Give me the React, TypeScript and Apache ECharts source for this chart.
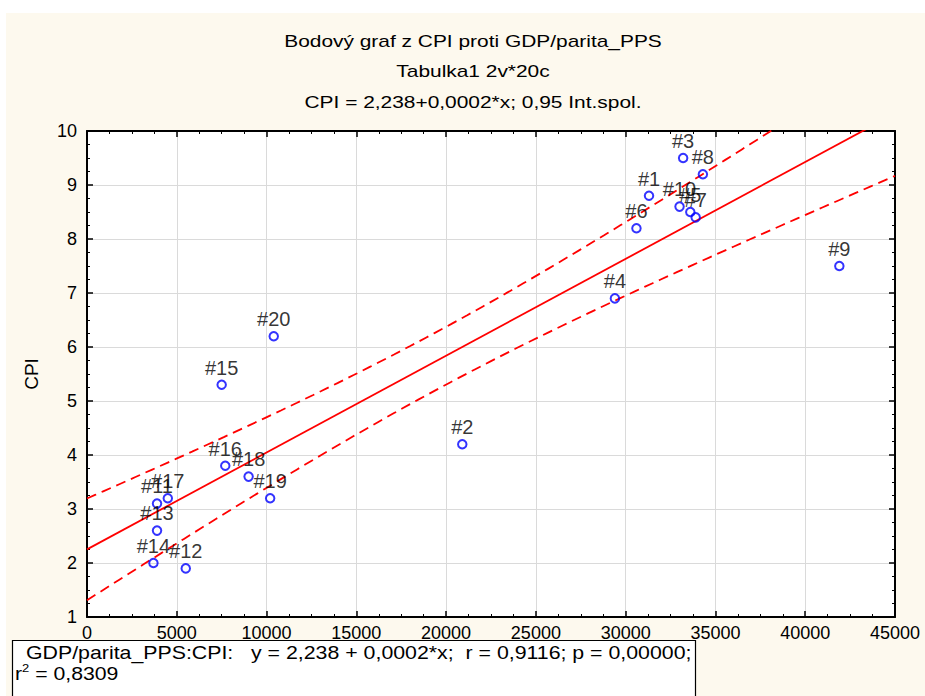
import React, { useEffect, useRef } from "react";
import * as echarts from "echarts";

// GDP per capita in PPS (x) and CPI (y) for the 20 observations #1 … #20
const gdpPps = [
  31300, 20900, 33200, 29400, 33600, 30600, 33900, 34300, 41900, 33000,
  3900, 5500, 3900, 3700, 7500, 7700, 4500, 9000, 10200, 10400,
];
const cpi = [
  8.8, 4.2, 9.5, 6.9, 8.5, 8.2, 8.4, 9.2, 7.5, 8.6,
  3.1, 1.9, 2.6, 2.0, 5.3, 3.8, 3.2, 3.6, 3.2, 6.2,
];
const pointNames = [
  "#1", "#2", "#3", "#4", "#5", "#6", "#7", "#8", "#9", "#10",
  "#11", "#12", "#13", "#14", "#15", "#16", "#17", "#18", "#19", "#20",
];

const titleLines = [
  "Bodový graf z CPI proti GDP/parita_PPS",
  "Tabulka1 2v*20c",
  "CPI = 2,238+0,0002*x; 0,95 Int.spol.",
];
const statsLine = "GDP/parita_PPS:CPI:   y = 2,238 + 0,0002*x;  r = 0,9116; p = 0,00000;";
const r2Value = " = 0,8309";

const X_MIN = 0;
const X_MAX = 45000;
const X_STEP = 5000;
const Y_MIN = 1;
const Y_MAX = 10;
const T_975_DF18 = 2.1009; // Student t, 0.975 quantile, 18 d.f.

const FONT = "'Liberation Sans', Arial, Helvetica, sans-serif";

// least-squares fit and 95 % confidence band for the mean
function regression(xs: number[], ys: number[]) {
  const n = xs.length;
  const mx = xs.reduce((a, b) => a + b, 0) / n;
  const my = ys.reduce((a, b) => a + b, 0) / n;
  let sxx = 0;
  let sxy = 0;
  let syy = 0;
  for (let i = 0; i < n; i++) {
    sxx += (xs[i] - mx) ** 2;
    sxy += (xs[i] - mx) * (ys[i] - my);
    syy += (ys[i] - my) ** 2;
  }
  const slope = sxy / sxx;
  const intercept = my - slope * mx;
  const s = Math.sqrt((syy - slope * sxy) / (n - 2));
  const fit = (x: number) => intercept + slope * x;
  const half = (x: number) => T_975_DF18 * s * Math.sqrt(1 / n + (x - mx) ** 2 / sxx);
  return { fit, half };
}

const { fit, half } = regression(gdpPps, cpi);
const bandXs: number[] = [];
for (let x = X_MIN; x <= X_MAX; x += 450) bandXs.push(x);
const fitLine = [[X_MIN, fit(X_MIN)], [X_MAX, fit(X_MAX)]];
const upperBand = bandXs.map((x) => [x, fit(x) + half(x)]);
const lowerBand = bandXs.map((x) => [x, fit(x) - half(x)]);

const axisLineStyle = { show: true, onZero: false, lineStyle: { color: "#000", width: 2 } };
const axisTick = { show: true, inside: true, length: 6, lineStyle: { color: "#000", width: 1.5 } };
const minorTick = { show: true, splitNumber: 4, length: 3, lineStyle: { color: "#000", width: 1 } };
const gridLine = { show: true, lineStyle: { color: "#dadada", width: 1 } };
const plainNumber = (v: number) => String(v);

export default function App() {
  const ref = useRef<HTMLDivElement>(null);

  useEffect(() => {
    if (!ref.current) return;
    const chart = echarts.init(ref.current, null, { renderer: "svg" });

    const points = gdpPps.map((x, i) => ({ name: pointNames[i], value: [x, cpi[i]] }));

    chart.setOption({
      animation: false,
      backgroundColor: "#ffffff",
      textStyle: { fontFamily: FONT },
      grid: {
        left: 87,
        right: 30,
        top: 131,
        bottom: 79,
        show: true,
        backgroundColor: "#ffffff",
        borderWidth: 0,
      },
      xAxis: [
        {
          type: "value",
          min: X_MIN,
          max: X_MAX,
          interval: X_STEP,
          position: "bottom",
          axisLine: axisLineStyle,
          axisTick,
          minorTick,
          splitLine: gridLine,
          axisLabel: { color: "#000", fontSize: 18, margin: 7, fontFamily: FONT, formatter: plainNumber },
        },
        {
          type: "value",
          min: X_MIN,
          max: X_MAX,
          interval: X_STEP,
          position: "top",
          axisLine: axisLineStyle,
          axisTick,
          minorTick,
          splitLine: { show: false },
          axisLabel: { show: false },
        },
      ],
      yAxis: [
        {
          type: "value",
          min: Y_MIN,
          max: Y_MAX,
          interval: 1,
          position: "left",
          name: "CPI",
          nameLocation: "middle",
          nameGap: 46,
          nameRotate: 90,
          nameTextStyle: { color: "#000", fontSize: 19, fontFamily: FONT },
          axisLine: axisLineStyle,
          axisTick,
          minorTick,
          splitLine: gridLine,
          axisLabel: { color: "#000", fontSize: 18, margin: 10, fontFamily: FONT, formatter: plainNumber },
        },
        {
          type: "value",
          min: Y_MIN,
          max: Y_MAX,
          interval: 1,
          position: "right",
          axisLine: axisLineStyle,
          axisTick,
          minorTick,
          splitLine: { show: false },
          axisLabel: { show: false },
        },
      ],
      series: [
        {
          type: "line",
          data: fitLine,
          symbol: "none",
          silent: true,
          lineStyle: { color: "#ff0000", width: 1.8 },
          z: 2,
        },
        {
          type: "line",
          data: upperBand,
          symbol: "none",
          silent: true,
          lineStyle: { color: "#ff0000", width: 1.8, type: [10, 6] },
          z: 2,
        },
        {
          type: "line",
          data: lowerBand,
          symbol: "none",
          silent: true,
          lineStyle: { color: "#ff0000", width: 1.8, type: [10, 6] },
          z: 2,
        },
        {
          type: "scatter",
          data: points,
          symbol: "circle",
          symbolSize: 8.5,
          itemStyle: { color: "rgba(0,0,0,0)", borderColor: "#0000ff", borderWidth: 2 },
          label: {
            show: true,
            position: "top",
            distance: 2,
            formatter: (p: any) => p.name,
            color: "#000",
            fontSize: 20,
            fontFamily: FONT,
          },
          z: 5,
        },
      ],
      graphic: [
        {
          type: "rect",
          z: -10,
          silent: true,
          shape: { x: 6, y: 13, width: 925, height: 700 },
          style: { fill: "#fdf9ee" },
        },
        ...titleLines.map((t, i) => ({
          type: "text",
          x: 473,
          y: [41, 71.5, 102][i],
          scaleX: 1.23,
          silent: true,
          style: {
            text: t,
            fontSize: 17,
            fontFamily: FONT,
            fill: "#000",
            align: "center",
            verticalAlign: "middle",
            textAlign: "center",
            textVerticalAlign: "middle",
          },
        })),
        {
          type: "rect",
          z: 100,
          silent: true,
          shape: { x: 12.5, y: 640.5, width: 683, height: 80 },
          style: { fill: "#ffffff", stroke: "#000", lineWidth: 1.2 },
        },
        {
          type: "text",
          z: 101,
          x: 26,
          y: 653,
          scaleX: 1.185,
          silent: true,
          style: {
            text: statsLine,
            fontSize: 18,
            fontFamily: FONT,
            fill: "#000",
            align: "left",
            verticalAlign: "middle",
            textAlign: "left",
            textVerticalAlign: "middle",
          },
        },
        {
          type: "text",
          z: 101,
          x: 15,
          y: 674,
          scaleX: 1.18,
          silent: true,
          style: {
            text: "{b|r}{s|2}{b|" + r2Value + "}",
            fontSize: 18,
            fontFamily: FONT,
            fill: "#000",
            align: "left",
            verticalAlign: "middle",
            textAlign: "left",
            textVerticalAlign: "middle",
            rich: {
              b: { fontSize: 18, lineHeight: 22, fontFamily: FONT, fill: "#000" },
              s: { fontSize: 11, lineHeight: 22, fontFamily: FONT, fill: "#000", verticalAlign: "top" },
            },
          },
        },
      ],
    });

    return () => chart.dispose();
  }, []);

  return (
    <div
      ref={ref}
      style={{ position: "fixed", left: 0, top: 0, width: 925, height: 696 }}
    />
  );
}
